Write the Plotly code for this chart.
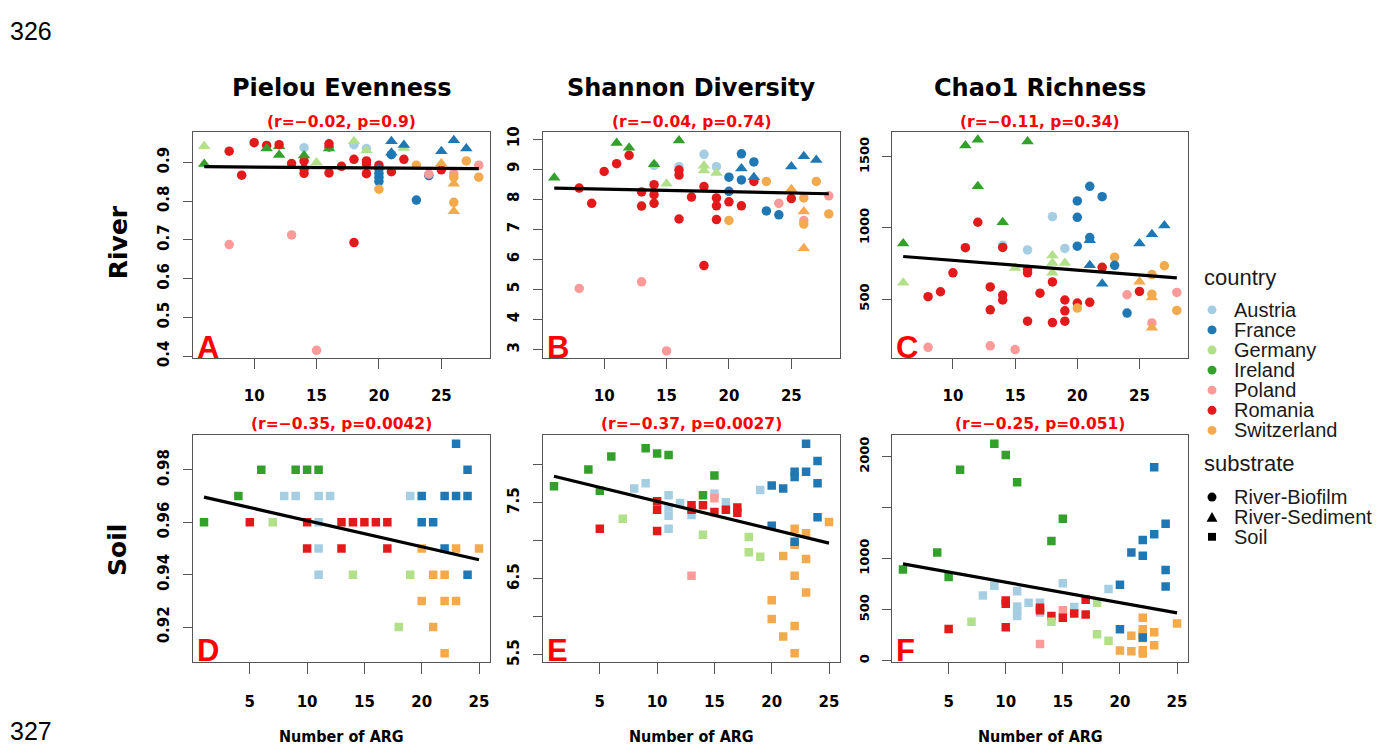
import plotly.graph_objects as go

W, H = 1388, 753

# ---------------- data ----------------
countries = ["Austria", "France", "Germany", "Ireland", "Poland", "Romania", "Switzerland"]
country_colors = ["#A6CEE3", "#1F78B4", "#B2DF8A", "#33A02C", "#FB9A99", "#E31A1C", "#F2AA4C"]
substrates = ["River-Biofilm", "River-Sediment", "Soil"]
substrate_symbols = ["circle", "triangle-up", "square"]

CODE = {"AT": "Austria", "FR": "France", "DE": "Germany", "IE": "Ireland",
        "PL": "Poland", "RO": "Romania", "CH": "Switzerland"}

# (Number of ARG, value, country, substrate)  B = biofilm, S = sediment, So = soil
pielou_river = [
    (8, 0.688, "PL", "B"), (8, 0.929, "RO", "B"), (9, 0.867, "RO", "B"), (10, 0.951, "RO", "B"),
    (11, 0.944, "RO", "B"), (13, 0.897, "RO", "B"), (13, 0.713, "PL", "B"),
    (14, 0.938, "AT", "B"), (14, 0.904, "RO", "B"), (14, 0.883, "RO", "B"), (14, 0.872, "RO", "B"),
    (15, 0.415, "PL", "B"), (16, 0.940, "RO", "B"), (16, 0.873, "RO", "B"), (17, 0.890, "RO", "B"),
    (18, 0.908, "RO", "B"), (18, 0.693, "RO", "B"), (18, 0.946, "AT", "B"), (19, 0.936, "AT", "B"),
    (19, 0.904, "RO", "B"), (19, 0.896, "RO", "B"), (19, 0.871, "RO", "B"), (20, 0.893, "RO", "B"),
    (20, 0.883, "FR", "B"), (20, 0.872, "FR", "B"), (20, 0.862, "FR", "B"), (20, 0.851, "FR", "B"),
    (20, 0.831, "CH", "B"), (21, 0.920, "FR", "B"), (21, 0.876, "RO", "B"), (22, 0.908, "RO", "B"),
    (23, 0.893, "CH", "B"), (23, 0.803, "FR", "B"), (24, 0.866, "FR", "B"), (24, 0.870, "PL", "B"),
    (25, 0.881, "RO", "B"), (26, 0.871, "PL", "B"), (26, 0.862, "CH", "B"), (26, 0.797, "CH", "B"),
    (27, 0.904, "CH", "B"), (28, 0.893, "PL", "B"), (28, 0.862, "CH", "B"),
    (6, 0.942, "DE", "S"), (6, 0.896, "IE", "S"), (11, 0.936, "IE", "S"), (12, 0.942, "IE", "S"),
    (12, 0.919, "IE", "S"), (14, 0.918, "IE", "S"), (15, 0.900, "DE", "S"), (16, 0.936, "IE", "S"),
    (18, 0.955, "DE", "S"), (19, 0.931, "DE", "S"), (21, 0.955, "FR", "S"), (21, 0.925, "FR", "S"),
    (22, 0.937, "DE", "S"), (22, 0.945, "FR", "S"), (25, 0.929, "FR", "S"), (26, 0.957, "FR", "S"),
    (27, 0.936, "FR", "S"), (25, 0.897, "CH", "S"), (26, 0.845, "CH", "S"), (26, 0.774, "CH", "S"),
    (12, 0.946, "RO", "B"), (16, 0.948, "RO", "B"),
]

shannon_river = [
    (8, 8.37, "RO", "B"), (8, 5.03, "PL", "B"), (9, 7.86, "RO", "B"), (10, 8.92, "RO", "B"),
    (11, 9.18, "RO", "B"), (12, 9.46, "RO", "B"), (13, 8.24, "RO", "B"), (13, 7.77, "RO", "B"),
    (13, 5.25, "PL", "B"), (14, 9.12, "AT", "B"), (14, 8.48, "RO", "B"), (14, 8.15, "RO", "B"),
    (14, 7.86, "RO", "B"), (15, 2.95, "PL", "B"), (16, 9.08, "AT", "B"), (16, 8.97, "RO", "B"),
    (16, 8.80, "RO", "B"), (16, 7.34, "RO", "B"), (17, 8.07, "RO", "B"), (18, 9.49, "AT", "B"),
    (18, 8.42, "RO", "B"), (18, 5.79, "RO", "B"), (19, 9.08, "AT", "B"), (19, 8.04, "RO", "B"),
    (19, 7.78, "RO", "B"), (19, 7.32, "RO", "B"), (20, 8.73, "FR", "B"), (20, 8.26, "FR", "B"),
    (20, 7.91, "RO", "B"), (20, 7.29, "CH", "B"), (21, 9.51, "FR", "B"), (21, 8.64, "FR", "B"),
    (21, 7.78, "RO", "B"), (22, 9.24, "FR", "B"), (22, 8.59, "RO", "B"), (23, 8.59, "CH", "B"),
    (23, 7.61, "FR", "B"), (24, 7.86, "PL", "B"), (24, 7.48, "FR", "B"), (25, 8.02, "RO", "B"),
    (26, 8.04, "CH", "B"), (26, 7.29, "PL", "B"), (26, 7.17, "CH", "B"), (27, 8.59, "CH", "B"),
    (28, 8.11, "PL", "B"), (28, 7.51, "CH", "B"),
    (6, 8.71, "IE", "S"), (11, 9.87, "IE", "S"), (12, 9.71, "IE", "S"), (14, 9.16, "IE", "S"),
    (15, 8.51, "DE", "S"), (16, 9.95, "IE", "S"), (18, 9.11, "DE", "S"), (18, 8.95, "DE", "S"),
    (19, 8.87, "DE", "S"), (21, 9.02, "FR", "S"), (22, 8.73, "FR", "S"), (25, 9.09, "FR", "S"),
    (26, 9.43, "FR", "S"), (27, 9.30, "FR", "S"), (25, 8.33, "CH", "S"), (26, 7.59, "CH", "S"),
    (26, 6.37, "CH", "S"),
]

chao1_river = [
    (8, 160, "PL", "B"), (8, 516, "RO", "B"), (9, 551, "RO", "B"), (10, 684, "RO", "B"),
    (11, 861, "RO", "B"), (12, 1040, "RO", "B"), (13, 585, "RO", "B"), (13, 424, "RO", "B"),
    (13, 171, "PL", "B"), (14, 879, "AT", "B"), (14, 863, "RO", "B"), (14, 528, "RO", "B"),
    (14, 493, "RO", "B"), (15, 144, "PL", "B"), (16, 845, "AT", "B"), (16, 707, "RO", "B"),
    (16, 684, "RO", "B"), (16, 344, "RO", "B"), (17, 541, "RO", "B"), (18, 1079, "AT", "B"),
    (18, 620, "RO", "B"), (18, 334, "RO", "B"), (19, 856, "AT", "B"), (19, 493, "RO", "B"),
    (19, 417, "RO", "B"), (19, 344, "RO", "B"), (20, 1190, "FR", "B"), (20, 1075, "FR", "B"),
    (20, 872, "FR", "B"), (20, 472, "RO", "B"), (20, 436, "CH", "B"), (21, 1293, "FR", "B"),
    (21, 932, "FR", "B"), (21, 477, "RO", "B"), (22, 1220, "FR", "B"), (22, 723, "RO", "B"),
    (23, 794, "CH", "B"), (23, 737, "FR", "B"), (24, 530, "PL", "B"), (24, 401, "FR", "B"),
    (25, 553, "RO", "B"), (26, 672, "CH", "B"), (26, 534, "CH", "B"), (26, 332, "PL", "B"),
    (27, 734, "CH", "B"), (28, 546, "PL", "B"), (28, 420, "CH", "B"),
    (6, 891, "IE", "S"), (6, 615, "DE", "S"), (11, 1580, "IE", "S"), (12, 1620, "IE", "S"),
    (12, 1293, "IE", "S"), (14, 1040, "IE", "S"), (15, 718, "DE", "S"), (16, 1608, "IE", "S"),
    (18, 806, "DE", "S"), (18, 753, "DE", "S"), (18, 684, "DE", "S"), (19, 753, "DE", "S"),
    (21, 914, "FR", "S"), (21, 737, "FR", "S"), (22, 608, "FR", "S"), (25, 891, "FR", "S"),
    (26, 955, "FR", "S"), (27, 1017, "FR", "S"), (25, 622, "CH", "S"), (26, 511, "CH", "S"),
    (26, 298, "CH", "S"),
]

pielou_soil = [
    (1, .96, "IE"), (4, .97, "IE"), (5, .96, "RO"), (6, .98, "IE"), (7, .96, "DE"), (8, .97, "AT"),
    (9, .98, "IE"), (9, .97, "AT"), (10, .98, "IE"), (10, .96, "RO"), (10, .95, "RO"),
    (11, .98, "IE"), (11, .97, "AT"), (11, .96, "AT"), (11, .95, "AT"), (11, .94, "AT"),
    (12, .97, "AT"), (13, .96, "RO"), (13, .95, "RO"), (14, .94, "DE"), (14, .96, "RO"),
    (15, .96, "RO"), (16, .96, "RO"), (17, .96, "RO"), (17, .95, "RO"), (18, .92, "DE"),
    (19, .97, "AT"), (19, .94, "DE"), (20, .97, "FR"), (20, .96, "FR"), (20, .95, "CH"),
    (20, .93, "CH"), (21, .96, "FR"), (21, .94, "CH"), (21, .92, "CH"), (22, .97, "FR"),
    (22, .95, "FR"), (22, .94, "CH"), (22, .93, "CH"), (22, .91, "CH"), (23, .99, "FR"),
    (23, .97, "FR"), (23, .95, "CH"), (23, .93, "CH"), (24, .98, "FR"), (24, .97, "FR"),
    (24, .94, "FR"), (25, .95, "CH"),
]

shannon_soil = [
    (1, 7.72, "IE"), (4, 7.94, "IE"), (5, 7.66, "IE"), (5, 7.16, "RO"), (6, 8.11, "IE"),
    (7, 7.29, "DE"), (8, 7.69, "AT"), (9, 8.22, "IE"), (9, 7.76, "AT"), (10, 8.15, "IE"),
    (10, 7.52, "RO"), (10, 7.41, "RO"), (10, 7.13, "RO"), (11, 8.13, "IE"), (11, 7.60, "AT"),
    (11, 7.44, "AT"), (11, 7.33, "AT"), (11, 7.16, "AT"), (12, 7.50, "AT"), (13, 7.34, "AT"),
    (13, 7.47, "RO"), (13, 7.41, "RO"), (13, 6.54, "PL"), (14, 7.08, "DE"), (14, 7.60, "IE"),
    (14, 7.47, "RO"), (15, 7.86, "IE"), (15, 7.62, "AT"), (15, 7.56, "PL"), (15, 7.38, "RO"),
    (16, 7.51, "AT"), (16, 7.41, "RO"), (17, 7.44, "RO"), (17, 7.37, "RO"), (18, 7.05, "DE"),
    (18, 6.85, "DE"), (19, 7.67, "AT"), (19, 6.79, "DE"), (20, 7.73, "FR"), (20, 7.20, "FR"),
    (20, 6.22, "CH"), (20, 5.97, "CH"), (21, 7.69, "FR"), (21, 6.80, "CH"), (21, 5.74, "CH"),
    (22, 7.91, "FR"), (22, 7.84, "FR"), (22, 7.16, "CH"), (22, 6.95, "CH"), (22, 6.99, "FR"),
    (22, 6.54, "CH"), (22, 5.88, "CH"), (22, 5.52, "CH"), (23, 8.28, "FR"), (23, 7.91, "FR"),
    (23, 7.10, "CH"), (23, 6.76, "CH"), (23, 6.32, "CH"), (24, 8.05, "FR"), (24, 7.76, "FR"),
    (24, 7.31, "FR"), (25, 7.25, "CH"),
]

chao1_soil = [
    (1, 894, "IE"), (4, 1061, "IE"), (5, 821, "IE"), (5, 311, "RO"), (6, 1872, "IE"),
    (7, 381, "DE"), (8, 638, "AT"), (9, 2128, "IE"), (9, 734, "AT"), (10, 2016, "IE"),
    (10, 590, "RO"), (10, 558, "RO"), (10, 327, "RO"), (11, 1750, "IE"), (11, 680, "AT"),
    (11, 532, "AT"), (11, 487, "AT"), (11, 439, "AT"), (12, 567, "AT"), (13, 567, "AT"),
    (13, 471, "AT"), (13, 519, "RO"), (13, 494, "RO"), (13, 164, "PL"), (14, 1173, "IE"),
    (14, 439, "RO"), (14, 381, "DE"), (15, 1391, "IE"), (15, 760, "AT"), (15, 494, "PL"),
    (15, 420, "RO"), (16, 526, "AT"), (16, 462, "RO"), (17, 596, "RO"), (17, 452, "RO"),
    (18, 567, "DE"), (18, 260, "DE"), (19, 702, "AT"), (19, 196, "DE"), (20, 744, "FR"),
    (20, 308, "FR"), (20, 99, "CH"), (21, 1061, "FR"), (21, 244, "CH"), (21, 93, "CH"),
    (22, 1183, "FR"), (22, 1029, "FR"), (22, 420, "CH"), (22, 308, "CH"), (22, 260, "CH"),
    (22, 221, "CH"), (22, 103, "CH"), (22, 71, "CH"), (22, 228, "FR"), (23, 1897, "FR"),
    (23, 1240, "FR"), (23, 279, "CH"), (23, 151, "CH"), (24, 1343, "FR"), (24, 888, "FR"),
    (24, 728, "FR"), (25, 365, "CH"),
]

# fitted regression lines (value at first / last x)
fit_x_river = [6, 28]
fit_x_soil = [1, 25]
fit_pielou_river = [0.889, 0.884]
fit_shannon_river = [8.37, 8.18]
fit_chao1_river = [799, 649]
fit_pielou_soil = [0.9696, 0.9457]
fit_shannon_soil = [7.85, 6.97]
fit_chao1_soil = [949, 468]

stats_text = ["(r=\u22120.02, p=0.9)", "(r=\u22120.04, p=0.74)", "(r=\u22120.11, p=0.34)",
              "(r=\u22120.35, p=0.0042)", "(r=\u22120.37, p=0.0027)", "(r=\u22120.25, p=0.051)"]
panel_letters = ["A", "B", "C", "D", "E", "F"]
column_titles = ["Pielou Evenness", "Shannon Diversity", "Chao1 Richness"]
row_titles = ["River", "Soil"]
x_title = "Number of ARG"

x_ticks_river = [10, 15, 20, 25]
x_ticks_soil = [5, 10, 15, 20, 25]
y_ticks = [
    ([0.4, 0.5, 0.6, 0.7, 0.8, 0.9], ["0.4", "0.5", "0.6", "0.7", "0.8", "0.9"]),
    ([3, 4, 5, 6, 7, 8, 9, 10], ["3", "4", "5", "6", "7", "8", "9", "10"]),
    ([500, 1000, 1500], ["500", "1000", "1500"]),
    ([0.92, 0.94, 0.96, 0.98], ["0.92", "0.94", "0.96", "0.98"]),
    ([5.5, 6.0, 6.5, 7.0, 7.5, 8.0], ["5.5", "", "6.5", "", "7.5", ""]),
    ([0, 500, 1000, 1500, 2000], ["0", "500", "1000", "", "2000"]),
]

# ---------------- layout geometry (pixels) ----------------
COLS = [(193, 490), (543, 840), (892, 1188)]
ROWS = [(129, 359), (438, 669)]
X_RANGES = [[5.1, 28.9], [0.04, 25.96]]
Y_RANGES = [[0.3955, 0.9775], [2.72, 10.22], [86, 1672],
            [0.9068, 0.9932], [5.41, 8.39], [-10, 2210]]


def fx(px):
    return px / W


def fy(py):
    return 1 - py / H


color_of = dict(zip(countries, country_colors))
symbol_of = {"B": "circle", "S": "triangle-up", "So": "square"}
size_of = {"B": 9.5, "S": 11, "So": 8.5}

panels = [
    (pielou_river, fit_x_river, fit_pielou_river),
    (shannon_river, fit_x_river, fit_shannon_river),
    (chao1_river, fit_x_river, fit_chao1_river),
    ([(a, b, c, "So") for a, b, c in pielou_soil], fit_x_soil, fit_pielou_soil),
    ([(a, b, c, "So") for a, b, c in shannon_soil], fit_x_soil, fit_shannon_soil),
    ([(a, b, c, "So") for a, b, c in chao1_soil], fit_x_soil, fit_chao1_soil),
]

fig = go.Figure()
BOLD = "DejaVu Sans"
AXCOL = "#555555"

for i, (pts, fxv, fyv) in enumerate(panels):
    n = i + 1
    xa = "x" if n == 1 else f"x{n}"
    ya = "y" if n == 1 else f"y{n}"
    fig.add_trace(go.Scatter(
        x=[p[0] for p in pts], y=[p[1] for p in pts], mode="markers",
        marker=dict(color=[color_of[CODE[p[2]]] for p in pts],
                    symbol=[symbol_of[p[3]] for p in pts],
                    size=[size_of[p[3]] for p in pts],
                    opacity=1, line=dict(width=0)),
        xaxis=xa, yaxis=ya, showlegend=False, hoverinfo="x+y"))
    fig.add_trace(go.Scatter(
        x=fxv, y=fyv, mode="lines", line=dict(color="black", width=3.2),
        xaxis=xa, yaxis=ya, showlegend=False, hoverinfo="skip"))

    r, c = divmod(i, 3)
    x0, x1 = COLS[c]
    y0, y1 = ROWS[r]
    small = c == 2
    xkey = "xaxis" if n == 1 else f"xaxis{n}"
    ykey = "yaxis" if n == 1 else f"yaxis{n}"
    common = dict(showgrid=False, zeroline=False, showline=True, mirror=True,
                  linecolor=AXCOL, linewidth=1.4, ticks="outside", tickcolor=AXCOL,
                  tickwidth=1.4)
    fig.update_layout(**{
        xkey: dict(domain=[fx(x0), fx(x1)], range=X_RANGES[r], anchor=ya,
                   tickmode="array", tickvals=x_ticks_river if r == 0 else x_ticks_soil,
                   ticklen=10 if r == 0 else 11,
                   ticklabelstandoff=14 if r == 0 else 15,
                   tickfont=dict(family=BOLD, size=15, color="black", weight="bold"),
                   **common),
        ykey: dict(domain=[fy(y1), fy(y0)], range=Y_RANGES[i], anchor=xa,
                   tickmode="array", tickvals=y_ticks[i][0], ticktext=y_ticks[i][1],
                   tickangle=-90, ticklen=9, ticklabelstandoff=8,
                   tickfont=dict(family=BOLD, size=13 if small else 15, color="black",
                                 weight="bold"),
                   **common),
    })

ann = []
for c, t in enumerate(column_titles):
    cx = (COLS[c][0] + COLS[c][1]) / 2
    ann.append(dict(text=t, x=fx(cx), y=fy(84), xref="paper", yref="paper",
                    showarrow=False, xanchor="center", yanchor="middle",
                    font=dict(family=BOLD, size=24, color="black", weight="bold")))
    ann.append(dict(text=x_title, x=fx(cx), y=fy(745), xref="paper", yref="paper",
                    showarrow=False, xanchor="center", yanchor="middle",
                    font=dict(family="Liberation Sans Narrow, DejaVu Sans Condensed, sans-serif",
                              size=16, color="black", weight="bold")))
for i in range(6):
    r, c = divmod(i, 3)
    cx = (COLS[c][0] + COLS[c][1]) / 2
    ann.append(dict(text=stats_text[i], x=fx(cx), y=fy(ROWS[r][0] - 11), xref="paper",
                    yref="paper", showarrow=False, xanchor="center", yanchor="middle",
                    font=dict(family=BOLD, size=15.5, color="#FF0000", weight="bold")))
    ann.append(dict(text=panel_letters[i], x=fx(COLS[c][0] + 2), y=fy(ROWS[r][1] - 11),
                    xref="paper", yref="paper", showarrow=False, xanchor="left",
                    yanchor="middle",
                    font=dict(family="Liberation Sans, Arial, sans-serif", size=31,
                              color="#FF0000", weight="bold")))
for r, t in enumerate(row_titles):
    cy = 241 if r == 0 else 555
    ann.append(dict(text=t, x=fx(118), y=fy(cy), xref="paper", yref="paper",
                    showarrow=False, textangle=-90, xanchor="center", yanchor="middle",
                    font=dict(family=BOLD, size=25, color="black", weight="bold")))
for t, py in (("326", 25), ("327", 740)):
    ann.append(dict(text=t, x=fx(8), y=fy(py), xref="paper", yref="paper",
                    showarrow=False, xanchor="left", yanchor="middle",
                    font=dict(family="Liberation Sans, Arial, sans-serif", size=25,
                              color="black")))

# legend (drawn as layout guides)
LEG = "Liberation Sans, Arial, sans-serif"
shapes = []
ann.append(dict(text="country", x=fx(1202), y=fy(277), xref="paper", yref="paper",
                showarrow=False, xanchor="left", yanchor="middle",
                font=dict(family=LEG, size=22, color="#1a1a1a")))
for k, (name, col) in enumerate(zip(countries, country_colors)):
    cy = 310 + k * 20.5
    shapes.append(dict(type="circle", xref="paper", yref="paper",
                       x0=fx(1212 - 4.5), x1=fx(1212 + 4.5), y0=fy(cy + 4.5), y1=fy(cy - 4.5),
                       fillcolor=col, line=dict(width=0)))
    ann.append(dict(text=name, x=fx(1232), y=fy(cy), xref="paper", yref="paper",
                    showarrow=False, xanchor="left", yanchor="middle",
                    font=dict(family=LEG, size=20, color="#1a1a1a")))
ann.append(dict(text="substrate", x=fx(1202), y=fy(467), xref="paper", yref="paper",
                showarrow=False, xanchor="left", yanchor="middle",
                font=dict(family=LEG, size=22, color="#1a1a1a")))
for k, (name, sym) in enumerate(zip(substrates, substrate_symbols)):
    cy = 501 + k * 20.3
    if sym == "circle":
        shapes.append(dict(type="circle", xref="paper", yref="paper",
                           x0=fx(1212 - 4.5), x1=fx(1212 + 4.5), y0=fy(cy + 4.5),
                           y1=fy(cy - 4.5), fillcolor="black", line=dict(width=0)))
    elif sym == "triangle-up":
        shapes.append(dict(type="path", xref="paper", yref="paper",
                           path=f"M {fx(1206.5)} {fy(cy + 5)} L {fx(1217.5)} {fy(cy + 5)} "
                                f"L {fx(1212)} {fy(cy - 5)} Z",
                           fillcolor="black", line=dict(width=0)))
    else:
        shapes.append(dict(type="rect", xref="paper", yref="paper",
                           x0=fx(1208), x1=fx(1216), y0=fy(cy + 4), y1=fy(cy - 4),
                           fillcolor="black", line=dict(width=0)))
    ann.append(dict(text=name, x=fx(1232), y=fy(cy), xref="paper", yref="paper",
                    showarrow=False, xanchor="left", yanchor="middle",
                    font=dict(family=LEG, size=20, color="#1a1a1a")))

fig.update_layout(width=W, height=H, autosize=False,
                  margin=dict(l=0, r=0, t=0, b=0),
                  paper_bgcolor="white", plot_bgcolor="white",
                  annotations=ann, shapes=shapes, showlegend=False)

fig.write_html("out.html")
